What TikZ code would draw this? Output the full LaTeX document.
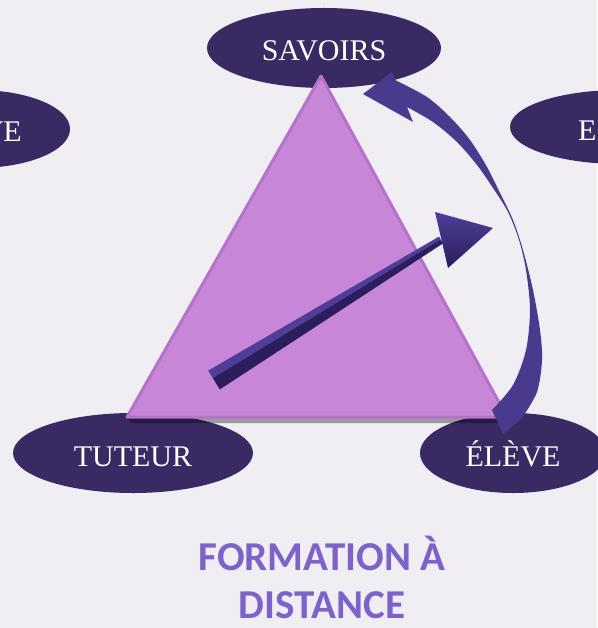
\documentclass[tikz,border=0pt]{standalone}
\usepackage{fontspec}
\setmainfont{Liberation Serif}
\newfontfamily\captionfont{Carlito}
\usetikzlibrary{shapes.geometric}
\definecolor{paper}{HTML}{F0EDF3}
\definecolor{nightviolet}{HTML}{3A2A63}
\definecolor{orchid}{HTML}{C886D8}
\definecolor{orchiddark}{HTML}{B473C8}
\definecolor{arrowviolet}{HTML}{4A3A8E}
\definecolor{shafttop}{HTML}{4F3E98}
\definecolor{shaftside}{HTML}{2C1D5C}
\definecolor{titleviolet}{HTML}{7D63C9}
\tikzstyle{oval} = [
 ellipse,
 fill=nightviolet,
 text=white,
 inner sep=0pt,
 text height=26pt,
 text depth=0pt,
 font=\fontsize{30}{30}\selectfont
]
\tikzstyle{ovaltext} = [
 text=white,
 inner sep=0pt,
 font=\fontsize{30}{30}\selectfont
]
\tikzstyle{caption} = [
 text=titleviolet,
 inner sep=0pt,
 font=\captionfont\bfseries\fontsize{41}{41}\selectfont
]

\begin{document}
\begin{tikzpicture}[x=1pt,y=-1pt]
  \useasboundingbox (0,0) rectangle (597,628);
  \fill [paper] (0,0) rectangle (597,628);

  % the roles round the triangle
  \node [oval, minimum width=234pt, minimum height=80pt] (savoirs) at (324,48) {SAVOIRS};
  \node [oval, minimum width=240pt, minimum height=80pt] (tuteur) at (133,453) {TUTEUR};
  \node [oval, minimum width=186pt, minimum height=80pt] (eleve) at (513,453) {ÉLÈVE};
  \node [oval, minimum width=186pt, minimum height=78pt] (leftOval) at (-23,129) {};
  \node [oval, minimum width=220pt, minimum height=74pt] (rightOval) at (620,127) {};
  \node [ovaltext, anchor=base east] (leftText) at (22,142) {VE};
  \node [ovaltext, anchor=base west] (rightText) at (578,141) {E};

  % triangle
  \coordinate (apex) at (321,76);
  \coordinate (baseL) at (127,417);
  \coordinate (baseR) at (507,417);
  \fill [black, opacity=.35] ([yshift=-1pt]baseL) -- ([yshift=-1pt]baseR)
    -- ([xshift=-4pt,yshift=-6pt]baseR) -- ([xshift=4pt,yshift=-6pt]baseL) -- cycle;
  \fill [orchid, draw=orchiddark, line width=3pt, line join=round]
    (apex) -- (baseR) -- (baseL) -- cycle;

  % straight arrow
  \coordinate (tailA) at (214,380);
  \coordinate (tipA) at (493,228);
  \fill [shafttop] (208.2,370.6) -- (439,236.6) -- (440.6,239.3) -- (212.8,378.1) -- cycle;
  \fill [shaftside] (212.8,378.1) -- (440.6,239.3) -- (443,243.4) -- (219.8,389.4) -- cycle;
  \shade [top color=shafttop, bottom color=shaftside]
    (tipA) -- (435,212) -- (448,268) -- cycle;

  % curved arrow from eleve to savoirs
  \coordinate (tipB) at (363,94);
  \coordinate (tailB) at (503,434);
  \fill [arrowviolet] (tipB) -- (392,72) -- (395,80)
    -- plot [smooth] coordinates {(395,80) (427,97) (450,117) (470,140) (487,167) (500,193)
       (513,220) (523,250) (533,290) (540,330) (542,360) (537,392) (522,418)}
    -- (tailB) -- (492,410)
    -- plot [smooth] coordinates {(492,410) (513,385) (526,350) (530,310) (526,270)
       (519,240) (508,212) (493,188) (477,165) (457,142) (433,122) (407,107)}
    -- (413,122) -- cycle;

  \node [caption, anchor=base] (capA) at (322,570) {FORMATION À};
  \node [caption, anchor=base] (capB) at (322,618) {DISTANCE};
\end{tikzpicture}
\end{document}
